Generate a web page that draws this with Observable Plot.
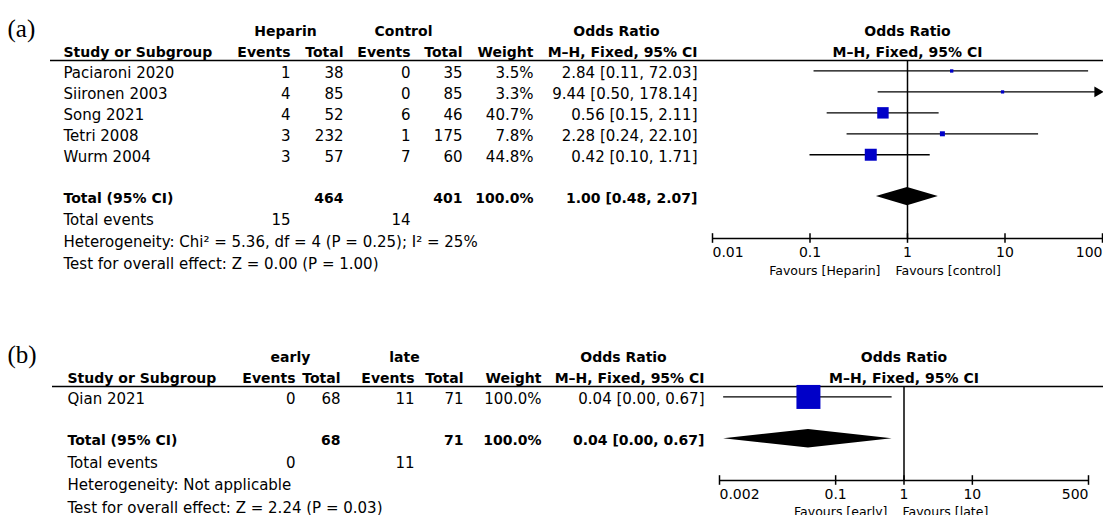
<!DOCTYPE html>
<html>
<head>
<meta charset="utf-8">
<script src="https://cdn.jsdelivr.net/npm/d3@7"></script>
<script src="https://cdn.jsdelivr.net/npm/@observablehq/plot@0.6"></script>
<style>
  html, body { margin: 0; padding: 0; background: #fff; overflow: hidden; }
  #chart svg { display: block; }
</style>
</head>
<body>
<div id="chart"></div>
<script>
// ---------- (a) Heparin vs control ----------
const studiesA = ["Paciaroni 2020", "Siironen 2003", "Song 2021", "Tetri 2008", "Wurm 2004"];
const heparinEvents = [1, 4, 4, 3, 3];
const heparinTotal = [38, 85, 52, 232, 57];
const controlEvents = [0, 0, 6, 1, 7];
const controlTotal = [35, 85, 46, 175, 60];
const weightA = [3.5, 3.3, 40.7, 7.8, 44.8];
const oddsA = [2.84, 9.44, 0.56, 2.28, 0.42];
const lowerA = [0.11, 0.50, 0.15, 0.24, 0.10];
const upperA = [72.03, 178.14, 2.11, 22.10, 1.71];
const pooledA = [1.00, 0.48, 2.07];          // OR, lower, upper
const totalWeightA = 100.0;
const heterogeneityA = "Heterogeneity: Chi² = 5.36, df = 4 (P = 0.25); I² = 25%";
const overallA = "Test for overall effect: Z = 0.00 (P = 1.00)";
const ticksA = [0.01, 0.1, 1, 10, 100];
const tickLabelsA = ["0.01", "0.1", "1", "10", "100"];
const favoursA = ["Favours [Heparin]", "Favours [control]"];

// ---------- (b) early vs late ----------
const studiesB = ["Qian 2021"];
const earlyEvents = [0];
const earlyTotal = [68];
const lateEvents = [11];
const lateTotal = [71];
const weightB = [100.0];
const oddsB = [0.04];
const lowerB = [0.0023];
const upperB = [0.67];
const pooledB = [0.04, 0.0023, 0.67];
const totalWeightB = 100.0;
const heterogeneityB = "Heterogeneity: Not applicable";
const overallB = "Test for overall effect: Z = 2.24 (P = 0.03)";
const ticksB = [0.002, 0.1, 1, 10, 500];
const tickLabelsB = ["0.002", "0.1", "1", "10", "500"];
const favoursB = ["Favours [early]", "Favours [late]"];

const FONT = "DejaVu Sans";
const BOX_BLUE = "#0000c8";

function forestPanel(p) {
  const L = p.layout;
  const n = p.studies.length;
  const rows = p.studies.map((name, i) => ({
    name, row: i,
    e1: p.e1[i], n1: p.n1[i], e2: p.e2[i], n2: p.n2[i],
    weight: p.weight[i], or: p.or[i], lo: p.lo[i], hi: p.hi[i]
  }));
  const xMin = p.ticks[0], xMax = p.ticks[p.ticks.length - 1];
  const clampX = v => Math.max(xMin, Math.min(xMax, v));
  const totalRow = n + 1;            // one blank row after the studies
  const axisRow = n + 3;             // axis sits two rows below the pooled diamond
  const head1 = -2, head2 = -1;
  const f2 = v => v.toFixed(2);
  const ci = (o, l, h) => `${f2(o)} [${f2(l)}, ${f2(h)}]`;
  const [pOr, pLo, pHi] = p.pooled;

  const totalLine = [{
    row: totalRow, label: "Total (95% CI)",
    n1: d3.sum(p.n1), n2: d3.sum(p.n2),
    weight: p.totalWeight.toFixed(1) + "%", ci: ci(pOr, pLo, pHi)
  }];
  const eventsLine = [{row: totalRow + L.footerStep, e1: d3.sum(p.e1), e2: d3.sum(p.e2)}];
  const notes = [
    {row: totalRow + L.footerStep, text: "Total events"},
    {row: totalRow + 2 * L.footerStep, text: p.heterogeneity},
    {row: totalRow + 3 * L.footerStep, text: p.overall}
  ];
  const dh = 0.44;
  const diamond = [
    {x: clampX(pLo), y1: totalRow, y2: totalRow},
    {x: pOr, y1: totalRow - dh, y2: totalRow + dh},
    {x: clampX(pHi), y1: totalRow, y2: totalRow}
  ];
  const ticks = p.ticks.map((t, i) => ({t, label: p.tickLabels[i]}));

  const bold = {fontWeight: "bold", fontSize: 14};
  // table cell: placed from the left edge of the svg, on a row of the y scale
  const cell = (data, text, x, o = {}) => Plot.text(data, {
    y: "row", text, frameAnchor: "left", dx: x, dy: L.textDy, textAnchor: "end", ...o
  });
  const label = (t, row, x, o = {}) => Plot.text([t], {
    text: d => d, y: () => row, frameAnchor: "left", dx: x, dy: L.textDy, ...o
  });
  const [cE1, cN1, cE2, cN2, cW, cCI] = L.cols;

  const marks = [
    // panel tag
    label(p.tag, head1, L.tagX, {textAnchor: "start", dy: 0, fontFamily: "Liberation Serif", fontSize: 25}),
    // column headings
    label(p.groups[0], head1, L.groupX[0], {textAnchor: "middle", ...bold}),
    label(p.groups[1], head1, L.groupX[1], {textAnchor: "middle", ...bold}),
    label("Odds Ratio", head1, L.orHeadX, {textAnchor: "middle", ...bold}),
    label("Study or Subgroup", head2, L.nameX, {textAnchor: "start", ...bold}),
    ...["Events", "Total", "Events", "Total", "Weight", "M–H, Fixed, 95% CI"].map((t, i) =>
      label(t, head2, L.cols[i], {textAnchor: "end", ...bold})),
    Plot.text(["Odds Ratio", "M–H, Fixed, 95% CI"], {
      text: d => d, x: () => 1, y: (d, i) => head1 + i, dy: L.textDy, textAnchor: "middle", ...bold
    }),
    Plot.ruleY([-0.5], {insetLeft: L.ruleLeft, strokeWidth: 1.4}),

    // study rows
    cell(rows, "name", L.nameX, {textAnchor: "start"}),
    cell(rows, "e1", cE1), cell(rows, "n1", cN1),
    cell(rows, "e2", cE2), cell(rows, "n2", cN2),
    cell(rows, d => d.weight.toFixed(1) + "%", cW),
    cell(rows, d => ci(d.or, d.lo, d.hi), cCI),

    // pooled row and footnotes
    cell(totalLine, "label", L.nameX, {textAnchor: "start", ...bold}),
    cell(totalLine, "n1", cN1, bold), cell(totalLine, "n2", cN2, bold),
    cell(totalLine, "weight", cW, bold), cell(totalLine, "ci", cCI, bold),
    cell(eventsLine, "e1", cE1), cell(eventsLine, "e2", cE2),
    cell(notes, "text", L.nameX, {textAnchor: "start"}),

    // forest: line of no effect, confidence intervals, weighted boxes, pooled diamond
    Plot.ruleX([1], {strokeWidth: 1.5}),
    Plot.ruleY(rows, {y: "row", x1: d => clampX(d.lo), x2: d => clampX(d.hi), strokeWidth: 1.3}),
    Plot.dot(rows.filter(d => d.hi > xMax), {
      x: () => xMax, y: "row", symbol: "triangle", rotate: 90, r: 4, fill: "black", dx: -5
    }),
    Plot.dot(rows.filter(d => d.lo < xMin), {
      x: () => xMin, y: "row", symbol: "triangle", rotate: -90, r: 4, fill: "black", dx: 5
    }),
    Plot.dot(rows, {x: "or", y: "row", symbol: "square", r: "weight", fill: BOX_BLUE}),
    Plot.areaY(diamond, {x: "x", y1: "y1", y2: "y2", fill: "black"}),

    // axis
    Plot.ruleY([axisRow], {x1: xMin, x2: xMax, strokeWidth: 1.5}),
    Plot.ruleX(p.ticks, {x: d => d, y1: axisRow - 0.23, y2: axisRow + 0.23, strokeWidth: 1.5}),
    Plot.text(ticks.slice(0, 1), {x: "t", y: () => axisRow, text: "label", dy: L.tickDy, textAnchor: "start", fontSize: L.tickSize}),
    Plot.text(ticks.slice(1, -1), {x: "t", y: () => axisRow, text: "label", dy: L.tickDy, textAnchor: "middle", fontSize: L.tickSize}),
    Plot.text(ticks.slice(-1), {x: "t", y: () => axisRow, text: "label", dy: L.tickDy, textAnchor: "end", fontSize: L.tickSize}),
    Plot.text([p.favours[0]], {text: d => d, x: () => 1, y: () => axisRow, dx: L.favDx[0], dy: L.favDy, textAnchor: "end", fontSize: L.favSize}),
    Plot.text([p.favours[1]], {text: d => d, x: () => 1, y: () => axisRow, dx: L.favDx[1], dy: L.favDy, textAnchor: "start", fontSize: L.favSize})
  ];

  return Plot.plot({
    width: 1103,
    height: L.height,
    marginLeft: 0,
    marginRight: 0,
    marginTop: L.ruleY,
    marginBottom: L.height - L.axisY,
    x: {type: "log", domain: [xMin, xMax], range: L.xRange, axis: null},
    y: {type: "linear", domain: [-0.5, axisRow], range: [L.ruleY, L.axisY], axis: null},
    r: {type: "sqrt", domain: [0, 100], range: [0, L.box100 / Math.sqrt(Math.PI)]},
    style: {fontFamily: FONT, fontSize: "15px", color: "black", background: "white", overflow: "visible"},
    marks
  });
}

const layoutA = {
  height: 326, ruleY: 60, axisY: 238, ruleLeft: 50, tagX: 7, nameX: 63,
  cols: [290, 343, 410, 462, 533, 697], groupX: [285, 403], orHeadX: 616,
  xRange: [712, 1102], box100: 17.9, footerStep: 1.05, textDy: 2,
  tickDy: 14.5, tickSize: 14, favDy: 32, favSize: 12.5, favDx: [-27, -12]
};
const layoutB = {
  height: 200, ruleY: 60, axisY: 154, ruleLeft: 52, tagX: 7, nameX: 67,
  cols: [295, 340, 414, 463, 541, 704], groupX: [290, 404], orHeadX: 623,
  xRange: [719, 1088], box100: 24, footerStep: 1.07, textDy: 2,
  tickDy: 14.5, tickSize: 14, favDy: 31, favSize: 12.5, favDx: [-16.5, -1.5]
};

const chart = document.getElementById("chart");
chart.append(forestPanel({
  tag: "(a)", groups: ["Heparin", "Control"], studies: studiesA,
  e1: heparinEvents, n1: heparinTotal, e2: controlEvents, n2: controlTotal,
  weight: weightA, or: oddsA, lo: lowerA, hi: upperA,
  pooled: pooledA, totalWeight: totalWeightA,
  heterogeneity: heterogeneityA, overall: overallA,
  ticks: ticksA, tickLabels: tickLabelsA, favours: favoursA, layout: layoutA
}));
chart.append(forestPanel({
  tag: "(b)", groups: ["early", "late"], studies: studiesB,
  e1: earlyEvents, n1: earlyTotal, e2: lateEvents, n2: lateTotal,
  weight: weightB, or: oddsB, lo: lowerB, hi: upperB,
  pooled: pooledB, totalWeight: totalWeightB,
  heterogeneity: heterogeneityB, overall: overallB,
  ticks: ticksB, tickLabels: tickLabelsB, favours: favoursB, layout: layoutB
}));
</script>
</body>
</html>
